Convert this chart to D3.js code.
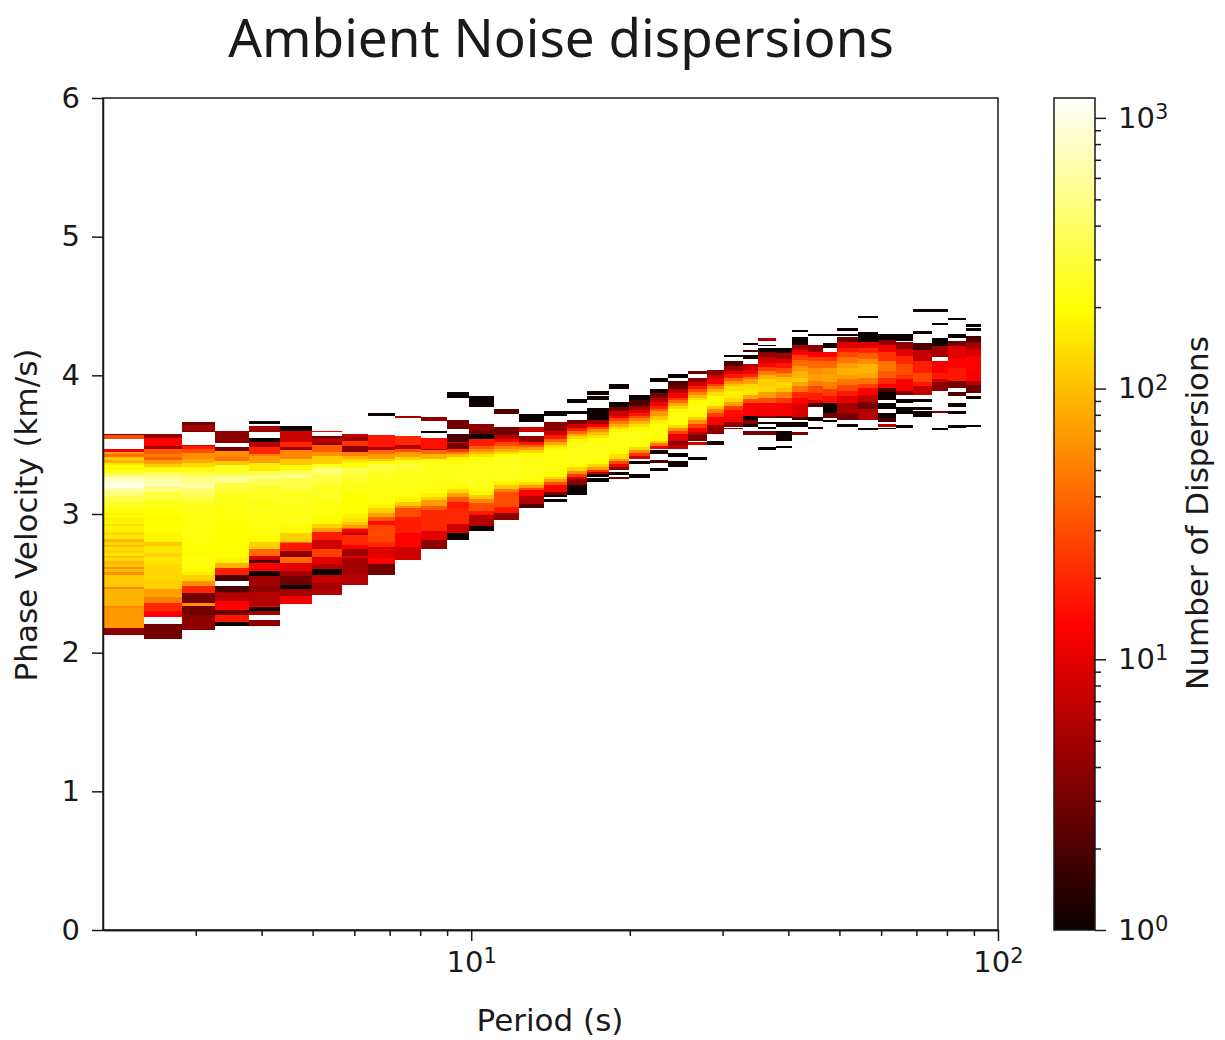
<!DOCTYPE html>
<html>
<head>
<meta charset="utf-8">
<script src="https://cdn.jsdelivr.net/npm/d3@7"></script>
<style>
  body { margin: 0; background: #fff; }
  text { font-family: "DejaVu Sans", sans-serif; fill: #1a1a1a; }
  .tick text { font-size: 29px; }
  .axis path, .axis line { stroke: #1a1a1a; stroke-width: 1.5; }
  .axis-label { font-size: 31px; text-anchor: middle; }
  .chart-title { font-family: "Noto Sans", sans-serif; font-size: 53px; text-anchor: middle; }
</style>
</head>
<body>
<div id="chart"></div>
<script>
// period bin edges in seconds, one column of the histogram between each pair
const periodEdges = [2.00, 2.39, 2.82, 3.27, 3.79, 4.34, 4.99, 5.69, 6.38, 7.17, 8.04, 9.00, 9.91, 11.06,
    12.34, 13.76, 15.21, 16.60, 18.28, 19.94, 21.86, 23.65, 25.81, 28.05, 30.21, 32.82, 35.04, 37.92,
    40.66, 43.60, 46.55, 49.50, 54.24, 59.20, 64.05, 68.98, 74.96, 80.37, 87.00, 92.85];

// each column: [upper velocity km/s, count] runs going down, a count of 0 is an empty gap
const col01 = [[3.58,4],[3.57,30],[3.54,0],[3.47,12],[3.45,70],[3.43,40],[3.41,110],[3.39,85],[3.37,150],[3.35,190],[3.32,260],[3.29,420],[3.27,800],[3.22,1000],[3.19,700],[3.17,480],[3.13,340],[3.09,260],[3.05,210],[3.01,170],[2.99,195],[2.97,160],[2.95,185],[2.93,140],[2.91,170],[2.87,130],[2.85,160],[2.82,90],[2.80,130],[2.78,100],[2.76,140],[2.74,120],[2.72,150],[2.70,105],[2.68,135],[2.66,90],[2.64,110],[2.62,60],[2.60,100],[2.58,60],[2.56,115],[2.50,110],[2.47,55],[2.46,90],[2.34,55],[2.32,65],[2.18,4],[2.13,0]];
const col02 = [[3.58,4],[3.55,14],[3.49,5],[3.47,35],[3.43,50],[3.41,35],[3.39,70],[3.36,110],[3.34,210],[3.30,380],[3.27,600],[3.22,800],[3.20,480],[3.16,300],[3.10,230],[3.04,205],[2.98,190],[2.94,200],[2.86,180],[2.80,110],[2.77,150],[2.72,125],[2.69,150],[2.64,130],[2.52,120],[2.46,70],[2.40,50],[2.36,20],[2.30,13],[2.26,0],[2.21,3],[2.10,0]];
const col03 = [[3.66,3],[3.64,5],[3.60,3],[3.59,0],[3.50,8],[3.49,18],[3.47,30],[3.44,60],[3.40,80],[3.37,130],[3.34,220],[3.30,340],[3.27,500],[3.22,620],[3.19,420],[3.14,300],[3.08,230],[3.00,215],[2.90,210],[2.80,195],[2.70,220],[2.62,190],[2.58,170],[2.56,120],[2.52,60],[2.48,20],[2.43,3],[2.36,60],[2.34,3],[2.27,4],[2.16,0]];
const col04 = [[3.60,4],[3.51,0],[3.485,3],[3.455,60],[3.41,45],[3.38,110],[3.35,250],[3.28,550],[3.22,300],[3.16,240],[3.08,220],[2.95,205],[2.80,195],[2.68,170],[2.65,90],[2.61,18],[2.56,2],[2.52,0],[2.48,2],[2.44,4],[2.43,6],[2.37,14],[2.31,3],[2.27,16],[2.22,1],[2.19,0]];
const col05 = [[3.67,1],[3.65,0],[3.635,5],[3.59,0],[3.55,1],[3.52,6],[3.48,20],[3.43,50],[3.42,70],[3.365,160],[3.31,320],[3.28,500],[3.25,350],[3.20,260],[3.10,230],[3.00,215],[2.90,210],[2.84,190],[2.80,120],[2.75,40],[2.70,8],[2.67,2],[2.65,14],[2.59,1],[2.55,5],[2.49,4],[2.44,6],[2.34,12],[2.33,1],[2.30,5],[2.27,0],[2.235,4],[2.195,0]];
const col06 = [[3.635,1],[3.60,8],[3.52,20],[3.48,5],[3.46,55],[3.40,110],[3.35,200],[3.32,350],[3.28,550],[3.26,320],[3.18,250],[3.08,225],[2.92,190],[2.86,120],[2.80,40],[2.79,16],[2.73,4],[2.69,40],[2.65,10],[2.59,5],[2.55,3],[2.49,1],[2.46,5],[2.41,12],[2.35,0]];
const col07 = [[3.60,13],[3.59,0],[3.56,3],[3.55,6],[3.51,4],[3.50,35],[3.45,60],[3.42,120],[3.36,250],[3.33,450],[3.28,320],[3.22,250],[3.10,220],[3.00,190],[2.93,120],[2.90,70],[2.87,18],[2.81,8],[2.75,25],[2.69,10],[2.64,6],[2.60,1],[2.56,7],[2.50,5],[2.45,6],[2.415,0]];
const col08 = [[3.58,8],[3.56,5],[3.53,22],[3.49,4],[3.45,50],[3.42,90],[3.40,130],[3.38,170],[3.37,210],[3.33,330],[3.28,280],[3.24,225],[3.15,205],[3.00,170],[2.97,150],[2.94,110],[2.92,70],[2.90,35],[2.89,12],[2.86,6],[2.85,20],[2.78,14],[2.75,5],[2.70,10],[2.68,5],[2.57,6],[2.49,0]];
const col09 = [[3.73,1],[3.71,0],[3.57,16],[3.48,6],[3.46,40],[3.43,70],[3.40,120],[3.38,190],[3.36,300],[3.30,240],[3.20,215],[3.07,170],[3.04,120],[3.01,70],[2.98,35],[2.95,15],[2.92,28],[2.80,20],[2.76,8],[2.75,10],[2.68,14],[2.64,3],[2.56,0]];
const col10 = [[3.71,5],[3.69,0],[3.56,20],[3.50,6],[3.47,30],[3.45,70],[3.41,130],[3.39,220],[3.37,290],[3.32,240],[3.20,210],[3.12,180],[3.09,110],[3.06,60],[3.04,30],[2.98,18],[2.86,14],[2.76,8],[2.67,0]];
const col11 = [[3.70,4],[3.67,0],[3.60,1],[3.585,0],[3.55,15],[3.47,5],[3.46,40],[3.43,90],[3.40,190],[3.38,240],[3.30,230],[3.20,210],[3.15,170],[3.12,120],[3.10,70],[3.06,35],[3.03,20],[2.88,10],[2.81,4],[2.745,0]];
const col12 = [[3.88,1],[3.835,0],[3.68,3],[3.61,0],[3.58,2],[3.52,8],[3.51,3],[3.47,22],[3.45,50],[3.43,100],[3.41,170],[3.39,210],[3.36,240],[3.25,225],[3.21,190],[3.18,130],[3.15,70],[3.12,35],[3.09,16],[3.04,20],[2.93,8],[2.86,1],[2.81,0]];
const col13 = [[3.85,1],[3.77,0],[3.65,4],[3.60,3],[3.58,1],[3.54,18],[3.49,35],[3.47,60],[3.45,100],[3.43,150],[3.41,200],[3.39,235],[3.20,225],[3.17,180],[3.14,110],[3.11,55],[3.08,30],[3.02,16],[2.99,6],[2.91,1],[2.88,0]];
const col14 = [[3.76,2],[3.72,0],[3.625,3],[3.57,6],[3.54,14],[3.52,28],[3.49,55],[3.47,90],[3.45,140],[3.43,200],[3.41,240],[3.27,225],[3.24,170],[3.21,110],[3.18,50],[3.16,30],[3.05,16],[3.01,4],[2.955,0]];
const col15 = [[3.72,1],[3.665,0],[3.63,8],[3.59,0],[3.56,4],[3.52,16],[3.50,35],[3.48,70],[3.46,130],[3.44,190],[3.42,225],[3.26,200],[3.23,130],[3.21,70],[3.19,30],[3.17,14],[3.13,6],[3.07,2],[3.04,0]];
const col16 = [[3.74,1],[3.71,0],[3.66,4],[3.60,8],[3.57,18],[3.54,40],[3.52,80],[3.50,130],[3.48,180],[3.46,220],[3.30,200],[3.27,130],[3.25,70],[3.23,30],[3.21,14],[3.16,3],[3.14,1],[3.12,0],[3.11,1],[3.09,0]];
const col17 = [[3.83,1],[3.80,0],[3.745,1],[3.72,0],[3.68,3],[3.65,8],[3.62,18],[3.60,40],[3.58,80],[3.56,130],[3.54,180],[3.52,225],[3.37,200],[3.34,130],[3.31,60],[3.29,25],[3.27,10],[3.25,4],[3.21,1],[3.14,0]];
const col18 = [[3.89,1],[3.86,0],[3.85,1],[3.825,0],[3.765,1],[3.68,5],[3.65,14],[3.63,30],[3.61,60],[3.59,100],[3.57,150],[3.55,200],[3.53,230],[3.39,200],[3.36,130],[3.34,70],[3.32,22],[3.30,6],[3.29,1],[3.27,0],[3.26,1],[3.23,0]];
const col19 = [[3.94,1],[3.90,0],[3.81,1],[3.77,3],[3.74,8],[3.71,14],[3.69,28],[3.67,50],[3.65,85],[3.63,130],[3.61,180],[3.59,225],[3.46,200],[3.43,140],[3.40,70],[3.38,28],[3.36,12],[3.34,4],[3.32,0],[3.30,1],[3.28,0],[3.27,3],[3.25,0]];
const col20 = [[3.86,1],[3.82,2],[3.78,5],[3.75,9],[3.73,16],[3.71,30],[3.69,55],[3.67,90],[3.65,140],[3.63,190],[3.60,230],[3.50,200],[3.48,130],[3.46,60],[3.44,22],[3.42,8],[3.40,0],[3.38,1],[3.36,0],[3.29,1],[3.26,0]];
const col21 = [[3.98,1],[3.95,0],[3.90,1],[3.87,3],[3.84,6],[3.81,12],[3.78,20],[3.76,35],[3.74,65],[3.71,110],[3.68,170],[3.65,215],[3.56,190],[3.53,110],[3.51,45],[3.49,14],[3.47,0],[3.46,1],[3.43,0],[3.39,2],[3.37,0],[3.33,1],[3.31,0]];
const col22 = [[4.01,1],[3.98,0],[3.96,2],[3.93,3],[3.90,6],[3.87,12],[3.84,22],[3.82,40],[3.80,80],[3.78,130],[3.76,180],[3.73,220],[3.66,200],[3.64,130],[3.62,60],[3.60,25],[3.58,10],[3.53,4],[3.50,7],[3.47,0],[3.44,1],[3.41,0],[3.38,1],[3.34,0]];
const col23 = [[4.03,3],[4.01,0],[3.98,4],[3.95,8],[3.92,16],[3.90,30],[3.88,55],[3.86,90],[3.84,140],[3.82,190],[3.78,215],[3.72,190],[3.70,120],[3.68,60],[3.65,25],[3.62,12],[3.59,6],[3.57,3],[3.53,0],[3.52,8],[3.50,0],[3.41,1],[3.39,0]];
const col24 = [[4.04,4],[4.00,8],[3.97,13],[3.94,25],[3.92,50],[3.90,90],[3.88,140],[3.85,190],[3.81,185],[3.78,110],[3.76,55],[3.73,25],[3.70,13],[3.64,4],[3.58,0],[3.53,1],[3.50,0]];
const col25 = [[4.15,1],[4.13,0],[4.105,2],[4.07,5],[4.03,10],[4.01,16],[3.98,35],[3.96,65],[3.94,100],[3.92,140],[3.89,170],[3.84,130],[3.81,70],[3.78,25],[3.75,15],[3.70,13],[3.66,4],[3.63,0],[3.62,5],[3.61,0]];
const col26 = [[4.235,1],[4.22,0],[4.18,2],[4.17,0],[4.15,1],[4.12,0],[4.08,7],[4.04,12],[4.01,20],[3.99,40],[3.97,75],[3.94,130],[3.90,150],[3.86,80],[3.83,30],[3.80,14],[3.71,1],[3.68,4],[3.65,1],[3.63,0],[3.60,3],[3.57,0]];
const col27 = [[4.27,5],[4.25,0],[4.22,1],[4.21,0],[4.20,1],[4.17,4],[4.13,8],[4.09,14],[4.06,25],[4.03,50],[4.00,85],[3.97,120],[3.92,130],[3.88,70],[3.84,30],[3.80,12],[3.71,3],[3.69,0],[3.66,1],[3.65,0],[3.63,1],[3.61,0],[3.60,3],[3.57,0],[3.48,1],[3.46,0]];
const col28 = [[4.20,1],[4.16,5],[4.12,10],[4.09,16],[4.05,30],[4.02,60],[3.99,100],[3.95,130],[3.91,100],[3.88,50],[3.84,22],[3.80,12],[3.71,2],[3.69,0],[3.66,1],[3.63,0],[3.60,1],[3.57,1],[3.53,0],[3.49,1],[3.475,0]];
const col29 = [[4.33,1],[4.31,0],[4.28,1],[4.22,5],[4.18,14],[4.15,25],[4.11,40],[4.07,65],[4.03,90],[3.98,110],[3.95,75],[3.92,45],[3.88,20],[3.84,14],[3.79,9],[3.70,2],[3.68,0],[3.66,1],[3.63,0],[3.59,3],[3.57,0]];
const col30 = [[4.30,1],[4.285,0],[4.22,4],[4.17,13],[4.13,25],[4.10,40],[4.05,60],[4.01,70],[3.96,50],[3.92,28],[3.87,18],[3.82,10],[3.80,2],[3.77,0],[3.70,1],[3.67,0],[3.63,1],[3.61,0]];
const col31 = [[4.30,1],[4.285,0],[4.23,1],[4.20,0],[4.17,13],[4.13,22],[4.10,40],[4.05,65],[4.00,75],[3.95,50],[3.90,25],[3.85,15],[3.80,1],[3.73,3],[3.69,0],[3.68,1],[3.66,0]];
const col32 = [[4.34,1],[4.32,0],[4.30,1],[4.285,0],[4.28,3],[4.24,9],[4.20,16],[4.17,28],[4.13,45],[4.09,70],[4.05,85],[4.00,70],[3.97,45],[3.93,28],[3.89,16],[3.85,10],[3.80,5],[3.72,3],[3.68,0],[3.65,1],[3.63,0]];
const col33 = [[4.43,1],[4.415,0],[4.315,1],[4.24,10],[4.20,20],[4.16,35],[4.12,60],[4.08,90],[4.02,75],[3.98,45],[3.94,25],[3.91,14],[3.86,7],[3.81,3],[3.76,6],[3.68,0],[3.62,1],[3.605,0]];
const col34 = [[4.295,1],[4.255,4],[4.22,12],[4.17,22],[4.10,45],[4.03,35],[3.98,20],[3.94,12],[3.91,2],[3.88,1],[3.82,0],[3.80,1],[3.76,0],[3.73,1],[3.69,2],[3.66,0],[3.65,6],[3.63,0],[3.62,1],[3.61,0]];
const col35 = [[4.295,1],[4.25,0],[4.24,4],[4.19,10],[4.14,20],[4.08,30],[4.00,22],[3.97,12],[3.89,4],[3.86,0],[3.83,1],[3.80,0],[3.77,1],[3.72,0],[3.64,1],[3.62,0]];
const col36 = [[4.475,1],[4.46,0],[4.32,1],[4.30,0],[4.23,2],[4.18,7],[4.10,18],[4.02,28],[3.95,16],[3.92,7],[3.86,0],[3.83,1],[3.81,0],[3.77,1],[3.75,0],[3.74,1],[3.70,0]];
const col37 = [[4.475,1],[4.46,0],[4.38,1],[4.365,0],[4.27,1],[4.21,5],[4.13,0],[4.10,12],[4.02,16],[3.97,8],[3.95,4],[3.89,0],[3.74,3],[3.73,0],[3.62,1],[3.605,0]];
const col38 = [[4.415,1],[4.40,0],[4.30,1],[4.27,0],[4.25,3],[4.21,10],[4.12,14],[4.05,16],[3.96,3],[3.91,0],[3.88,2],[3.85,0],[3.80,1],[3.77,0],[3.74,1],[3.72,0],[3.64,1],[3.62,0]];
const col39 = [[4.37,1],[4.35,0],[4.34,1],[4.32,0],[4.285,2],[4.24,5],[4.19,9],[4.14,13],[4.02,12],[3.96,6],[3.93,3],[3.87,0],[3.85,1],[3.83,0],[3.645,1],[3.63,0]];
const columns = [col01, col02, col03, col04, col05, col06, col07, col08, col09, col10, col11, col12, col13,
    col14, col15, col16, col17, col18, col19, col20, col21, col22, col23, col24, col25, col26, col27, col28,
    col29, col30, col31, col32, col33, col34, col35, col36, col37, col38, col39];

const periodMajorTicks = [10, 100];
const periodMinorTicks = [3, 4, 5, 6, 7, 8, 9, 20, 30, 40, 50, 60, 70, 80, 90];
const velocityTicks = [0, 1, 2, 3, 4, 5, 6];
const countMajorTicks = [1, 10, 100, 1000];
const countMinorTicks = [2, 3, 4, 5, 6, 7, 8, 9, 20, 30, 40, 50, 60, 70, 80, 90, 200, 300, 400, 500, 600, 700, 800, 900];
const countMax = 1184;

const margin = { top: 98, left: 103 };
const width = 895, height = 832;

const svg = d3.select('#chart').append('svg')
    .attr('width', 1225)
    .attr('height', 1040);

const defs = svg.append('defs');
defs.append('filter').attr('id', 'soft')
    .append('feGaussianBlur').attr('stdDeviation', '0.5 0.45');

const chart = svg.append('g')
    .attr('transform', `translate(${margin.left},${margin.top})`);

const xScale = d3.scaleLog().domain([2, 100]).range([0, width]);
const yScale = d3.scaleLinear().domain([0, 6]).range([height, 0]);
const countScale = d3.scaleLog().domain([1, countMax]).range([height, 0]);

// matplotlib "hot" on a log norm
const hot = d3.scaleLinear()
    .domain([0, 0.365, 0.746, 1])
    .range(['#0b0000', '#ff0000', '#ffff00', '#ffffff']);
const countNorm = d3.scaleLog().domain([1, countMax]).range([0, 1]).clamp(true);
const color = d => hot(countNorm(d));

// flatten the runs into cells, the last entry of a column only closes the run before it
const cells = columns.flatMap((runs, i) => runs.slice(0, -1).map((run, j) => ({
    x0: periodEdges[i],
    x1: periodEdges[i + 1],
    top: run[0],
    bottom: runs[j + 1][0],
    count: run[1]
}))).filter(d => d.count > 0);

chart.append('g')
    .attr('filter', 'url(#soft)')
    .selectAll('rect')
    .data(cells)
    .join('rect')
    .attr('x', d => xScale(d.x0))
    .attr('width', d => xScale(d.x1) - xScale(d.x0))
    .attr('y', d => yScale(d.top))
    .attr('height', d => yScale(d.bottom) - yScale(d.top))
    .attr('fill', d => color(d.count))
    .attr('shape-rendering', 'crispEdges');

chart.append('rect')
    .attr('width', width)
    .attr('height', height)
    .attr('fill', 'none')
    .attr('stroke', '#1a1a1a')
    .attr('stroke-width', 1.5);

// writes 10^n labels with a raised exponent
function powerLabels(sel) {
    sel.selectAll('.tick text').each(function (d) {
        const label = d3.select(this).text('10');
        label.append('tspan')
            .attr('dy', '-0.42em')
            .style('font-size', '21px')
            .text(Math.round(Math.log10(d)));
    });
}

chart.append('g')
    .attr('class', 'axis')
    .attr('transform', `translate(0,${height})`)
    .call(d3.axisBottom(xScale).tickValues(periodMinorTicks).tickSize(6).tickFormat('').tickSizeOuter(0));

chart.append('g')
    .attr('class', 'axis')
    .attr('transform', `translate(0,${height})`)
    .call(d3.axisBottom(xScale).tickValues(periodMajorTicks).tickSize(11).tickPadding(10).tickSizeOuter(0))
    .call(powerLabels);

chart.append('g')
    .attr('class', 'axis')
    .call(d3.axisLeft(yScale).tickValues(velocityTicks).tickSize(11).tickPadding(12).tickFormat(d3.format('d')).tickSizeOuter(0));

chart.append('text')
    .attr('class', 'axis-label')
    .attr('x', 447)
    .attr('y', 933)
    .text('Period (s)');

chart.append('text')
    .attr('class', 'axis-label')
    .attr('transform', `translate(-66,${height / 2 + 1}) rotate(-90)`)
    .text('Phase Velocity (km/s)');

svg.append('text')
    .attr('class', 'chart-title')
    .attr('x', 561)
    .attr('y', 57)
    .text('Ambient Noise dispersions');

// colorbar
const barX = 1054, barWidth = 41;
const gradient = defs.append('linearGradient')
    .attr('id', 'hot-bar')
    .attr('x1', 0).attr('y1', 1).attr('x2', 0).attr('y2', 0);
gradient.selectAll('stop')
    .data(hot.domain())
    .join('stop')
    .attr('offset', d => d)
    .attr('stop-color', d => hot(d));

const bar = svg.append('g')
    .attr('transform', `translate(${barX},${margin.top})`);

bar.append('rect')
    .attr('width', barWidth)
    .attr('height', height)
    .attr('fill', 'url(#hot-bar)')
    .attr('stroke', '#1a1a1a')
    .attr('stroke-width', 1.5);

bar.append('g')
    .attr('class', 'axis')
    .attr('transform', `translate(${barWidth},0)`)
    .call(d3.axisRight(countScale).tickValues(countMinorTicks).tickSize(6).tickFormat('').tickSizeOuter(0))
    .call(g => g.select('.domain').remove());

bar.append('g')
    .attr('class', 'axis')
    .attr('transform', `translate(${barWidth},0)`)
    .call(d3.axisRight(countScale).tickValues(countMajorTicks).tickSize(11).tickPadding(12).tickSizeOuter(0))
    .call(g => g.select('.domain').remove())
    .call(powerLabels);

bar.append('text')
    .attr('class', 'axis-label')
    .attr('transform', `translate(${1208 - barX},${height / 2 - 1}) rotate(-90)`)
    .text('Number of Dispersions');
</script>
</body>
</html>
